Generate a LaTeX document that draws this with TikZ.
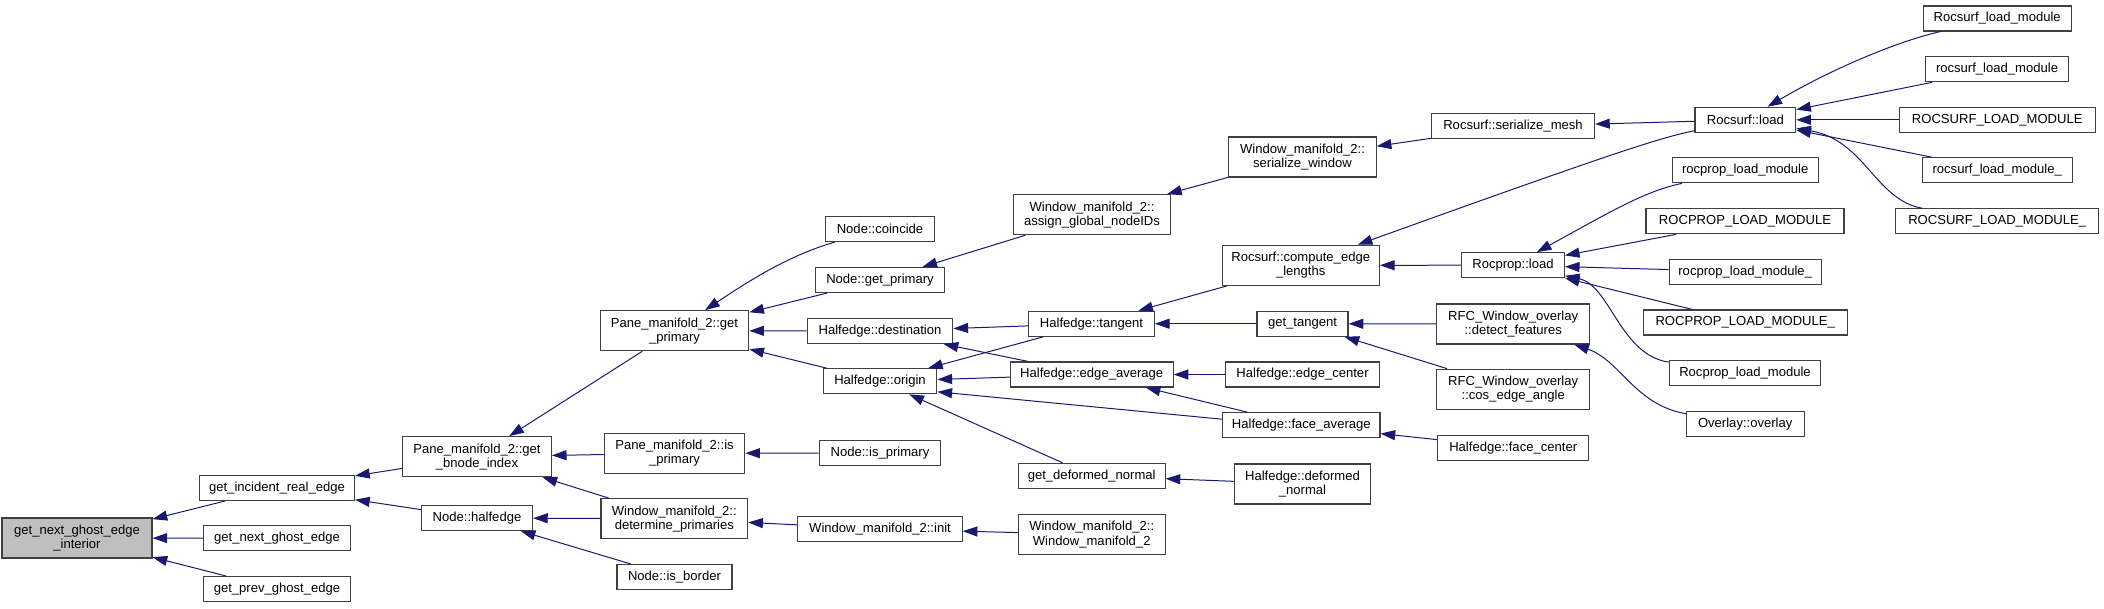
\documentclass[tikz,border=0pt]{standalone}
\usepackage{fontspec}
\setmainfont{Liberation Sans}
\usetikzlibrary{arrows.meta,calc}
\definecolor{edgec}{HTML}{191970}
\definecolor{rootfill}{HTML}{BFBFBF}
\definecolor{boxline}{HTML}{404040}
\begin{document}
\begin{tikzpicture}[x=0.75pt,y=-0.75pt,
 box/.style={draw=boxline, line width=0.85pt, fill=white, inner sep=0pt, align=center,
   font=\fontsize{9.8}{10.6}\selectfont, minimum height=18.75pt},
 tall/.style={minimum height=30pt},
 bw/.style={minimum width=#1*0.75pt},
 edge/.style={draw=edgec, line width=0.75pt, -{Triangle[length=11pt,width=7.5pt]}}]
\useasboundingbox (0,0) rectangle (2104,608);

% column 0-1
\node[box,bw=150,tall,fill=rootfill] (n0) at (77,538) {get\_next\_ghost\_edge\\\_interior};
\node[box,bw=155] (n1) at (277,488) {get\_incident\_real\_edge};
\node[box,bw=147] (n2) at (277,538.3) {get\_next\_ghost\_edge};
\node[box,bw=147] (n3) at (277,589) {get\_prev\_ghost\_edge};
% column 2
\node[box,bw=148.6,tall] (n4) at (477,456.7) {Pane\_manifold\_2::get\\\_bnode\_index};
\node[box,bw=111] (n5) at (477,518) {Node::halfedge};
% column 3
\node[box,bw=148.4,tall] (n6) at (674.5,330.7) {Pane\_manifold\_2::get\\\_primary};
\node[box,bw=140.4,tall] (n7) at (674.5,453.3) {Pane\_manifold\_2::is\\\_primary};
\node[box,bw=146.7,tall] (n8) at (674.3,518.7) {Window\_manifold\_2::\\determine\_primaries};
\node[box,bw=115] (n9) at (674.5,577) {Node::is\_border};
% column 4
\node[box,bw=109.7] (n10) at (880,229) {Node::coincide};
\node[box,bw=129.7] (n11) at (880,280) {Node::get\_primary};
\node[box,bw=145.7] (n12) at (880,331) {Halfedge::destination};
\node[box,bw=113.7] (n13) at (880,381.3) {Halfedge::origin};
\node[box,bw=121.7] (n14) at (880,453) {Node::is\_primary};
\node[box,bw=164.3] (n15) at (880,529) {Window\_manifold\_2::init};
% column 5
\node[box,bw=157.7,tall] (n16) at (1092,214.7) {Window\_manifold\_2::\\assign\_global\_nodeIDs};
\node[box,bw=125.6] (n17) at (1091.5,323.7) {Halfedge::tangent};
\node[box,bw=162.7] (n18) at (1091.7,374.5) {Halfedge::edge\_average};
\node[box,bw=146.7] (n19) at (1091.7,475.8) {get\_deformed\_normal};
\node[box,bw=146.7,tall] (n20) at (1091.7,534.5) {Window\_manifold\_2::\\Window\_manifold\_2};
% column 6
\node[box,bw=147.3,tall] (n21) at (1302.5,157) {Window\_manifold\_2::\\serialize\_window};
\node[box,bw=157.3,tall] (n22) at (1300.7,265.3) {Rocsurf::compute\_edge\\\_lengths};
\node[box,bw=91] (n23) at (1302.5,323.7) {get\_tangent};
\node[box,bw=153.6] (n24) at (1302.5,374.5) {Halfedge::edge\_center};
\node[box,bw=157.3] (n25) at (1301.3,425.2) {Halfedge::face\_average};
\node[box,bw=136.4,tall] (n26) at (1302.5,484) {Halfedge::deformed\\\_normal};
% column 7
\node[box,bw=163] (n27) at (1513,126.4) {Rocsurf::serialize\_mesh};
\node[box,bw=102.6] (n28) at (1513,265.2) {Rocprop::load};
\node[box,bw=153,tall] (n29) at (1513.2,324) {RFC\_Window\_overlay\\::detect\_features};
\node[box,bw=153,tall] (n30) at (1513.2,389.2) {RFC\_Window\_overlay\\::cos\_edge\_angle};
\node[box,bw=151] (n31) at (1513.2,447.7) {Halfedge::face\_center};
% column 8
\node[box,bw=100.7] (n32) at (1745.3,119.8) {Rocsurf::load};
\node[box,bw=145.7] (n33) at (1745.2,170.3) {rocprop\_load\_module};
\node[box,bw=198] (n34) at (1745,221.3) {ROCPROP\_LOAD\_MODULE};
\node[box,bw=152.3] (n35) at (1745.2,271.7) {rocprop\_load\_module\_};
\node[box,bw=204.3] (n36) at (1745.2,322.5) {ROCPROP\_LOAD\_MODULE\_};
\node[box,bw=151.4] (n37) at (1745,373.3) {Rocprop\_load\_module};
\node[box,bw=117.7] (n38) at (1745.2,423.8) {Overlay::overlay};
% column 9
\node[box,bw=148.3] (n39) at (1997.2,18.5) {Rocsurf\_load\_module};
\node[box,bw=142.6] (n40) at (1997,69.3) {rocsurf\_load\_module};
\node[box,bw=196.3] (n41) at (1997.2,119.8) {ROCSURF\_LOAD\_MODULE};
\node[box,bw=149.7] (n42) at (1997.2,170.3) {rocsurf\_load\_module\_};
\node[box,bw=203] (n43) at (1997.2,221.3) {ROCSURF\_LOAD\_MODULE\_};

% edges (caller -> callee, arrow at callee)
\draw[edge] (n1) -- (n0);
\draw[edge] (n2) -- (n0);
\draw[edge] (n3) -- (n0);
\draw[edge] (n4) -- (n1);
\draw[edge] (n5) -- (n1);
\draw[edge] (n6) -- (n4);
\draw[edge] (n7) -- (n4);
\draw[edge] (n8) -- (n4);
\draw[edge] (n8) -- (n5);
\draw[edge] (n9) -- (n5);
\draw[edge] (n10) .. controls (790,255) and (750,280) .. (n6);
\draw[edge] (n11) -- (n6);
\draw[edge] (n12) -- (n6);
\draw[edge] (n13) -- (n6);
\draw[edge] (n16) -- (n11);
\draw[edge] (n17) -- (n12);
\draw[edge] (n18) -- (n12);
\draw[edge] (n17) -- (n13);
\draw[edge] (n18) -- (n13);
\draw[edge] ($(n25.west)+(0,-6)$) -- ($(n13.east)+(0,10.5)$);
\draw[edge] (n19) -- (n13);
\draw[edge] (n14) -- (n7);
\draw[edge] (n15) -- (n8);
\draw[edge] (n20) -- (n15);
\draw[edge] (n21) -- (n16);
\draw[edge] (n27) -- (n21);
\draw[edge] (n32) -- (n27);
\draw[edge] (n22) -- (n17);
\draw[edge] (n23) -- (n17);
\draw[edge] (n24) -- (n18);
\draw[edge] (n25) -- (n18);
\draw[edge] (n26) -- (n19);
\draw[edge] (n32) .. controls (1665,137) and (1640,143) .. (n22);
\draw[edge] (n28) -- (n22);
\draw[edge] (n29) -- (n23);
\draw[edge] (n30) -- (n23);
\draw[edge] (n31) -- (n25);
\draw[edge] (n39) .. controls (1895,42) and (1830,70) .. (n32);
\draw[edge] (n40) -- (n32);
\draw[edge] (n41) -- (n32);
\draw[edge] (n42) -- (n32);
\draw[edge] (n43) .. controls (1875,200) and (1865,140) .. (n32);
\draw[edge] (n33) .. controls (1645,191) and (1610,212) .. (n28);
\draw[edge] (n34) -- (n28);
\draw[edge] (n35) -- (n28);
\draw[edge] (n36) -- (n28);
\draw[edge] (n37) .. controls (1620,355) and (1610,285) .. (n28);
\draw[edge] (n38) .. controls (1635,405) and (1620,360) .. (n29);
\end{tikzpicture}
\end{document}
